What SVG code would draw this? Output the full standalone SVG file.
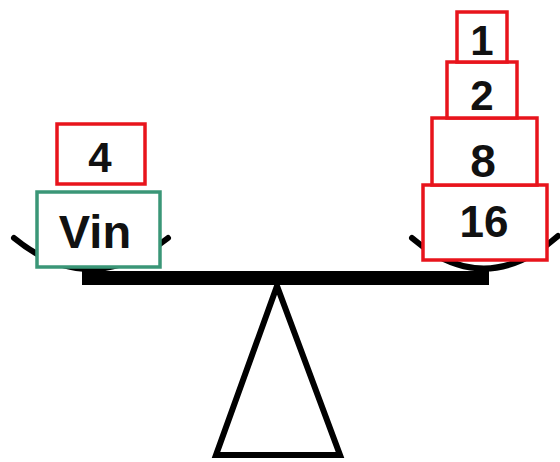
<svg xmlns="http://www.w3.org/2000/svg" width="560" height="462" viewBox="0 0 560 462">
<style>
.pan{fill:none;stroke:#000;stroke-width:6;stroke-linecap:round}
.red{fill:#fff;stroke:#e8141c;stroke-width:3.5}
.grn{fill:#fff;stroke:#3a9677;stroke-width:3.5}
.t{font-family:"Liberation Sans",Arial,sans-serif;font-weight:bold;fill:#111;text-anchor:middle}
</style>
<rect width="560" height="462" fill="#fff"/>
<g id="scale">
<path class="pan" d="M14,238 Q90,300 168,238"/>
<path class="pan" d="M412,238 Q485,300 558,236"/>
<rect x="82" y="271" width="407" height="14" fill="#000"/>
<polygon points="277,286 216,455 340,455" fill="none" stroke="#000" stroke-width="6" stroke-linejoin="miter"/>
</g>
<g id="vin">
<rect class="grn" x="37" y="192" width="123" height="75"/>
<text class="t" x="95" y="248" font-size="47">Vin</text>
</g>
<g id="w4">
<rect class="red" x="57" y="124" width="88" height="60"/>
<text class="t" x="100" y="172" font-size="42">4</text>
</g>
<g id="w16">
<rect class="red" x="423" y="185" width="124" height="75"/>
<text class="t" x="484" y="237" font-size="44">16</text>
</g>
<g id="w8">
<rect class="red" x="432" y="118" width="105" height="67"/>
<text class="t" x="483" y="177" font-size="46">8</text>
</g>
<g id="w2">
<rect class="red" x="447" y="62" width="70" height="56"/>
<text class="t" x="482" y="110" font-size="42">2</text>
</g>
<g id="w1">
<rect class="red" x="457" y="12" width="50" height="50"/>
<text class="t" x="482" y="55" font-size="42">1</text>
</g>
<g id="connectors"/>
</svg>
